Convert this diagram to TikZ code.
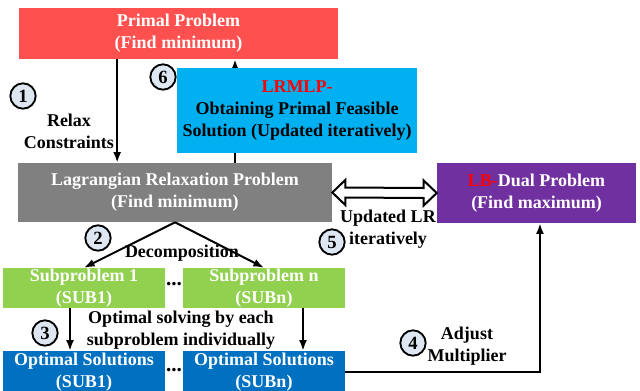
\documentclass[tikz,border=0pt]{standalone}
\usepackage{fontspec}
\setmainfont{Liberation Serif}
\usetikzlibrary{arrows.meta,calc}
\definecolor{primred}{HTML}{FF5050}
\definecolor{lrmlpcyan}{HTML}{00B0F0}
\definecolor{lrgray}{HTML}{808080}
\definecolor{dualpurple}{HTML}{7030A0}
\definecolor{subgreen}{HTML}{92D050}
\definecolor{optblue}{HTML}{0070C0}
\definecolor{stepfill}{HTML}{DEE6F2}
\begin{document}
\begin{tikzpicture}[x=0.75pt,y=-0.75pt,
box/.style={%
rectangle,
inner sep=0pt,
align=center,
text=white,
font=\fontsize{13.5}{16.5}\selectfont\bfseries
},
lbl/.style={%
align=center,
inner sep=0pt,
font=\fontsize{13.5}{16.5}\selectfont\bfseries
},
stepno/.style={%
circle,
draw,
line width=1.4pt,
fill=stepfill,
minimum size=19pt,
inner sep=0pt,
font=\fontsize{14}{14}\selectfont\bfseries
},
arr/.style={%
line width=1.5pt,
-{Latex[length=8pt,width=6pt]}
},
]
\useasboundingbox (0,0) rectangle (640,390);
%%boxes
\node[box,fill=primred,minimum width=239.25pt,minimum height=38.25pt](prim)at(178.5,33.5){Primal Problem\\(Find minimum)};
\node[box,fill=lrgray,minimum width=235.5pt,minimum height=44.25pt](lr)at(175,192.5){Lagrangian Relaxation Problem\\(Find minimum)};
%% arrow behind the LRMLP box
\draw[arr]([xshift=45pt]lr.north)--([xshift=45pt]lr.north|-prim.south);
\node[box,fill=lrmlpcyan,text=black,minimum width=180pt,minimum height=63.75pt](lrmlp)at(297,110.5){\textcolor{red}{LRMLP-}\\Obtaining Primal Feasible\\Solution (Updated iteratively)};
\node[box,fill=dualpurple,minimum width=149.25pt,minimum height=45pt](dual)at(536.5,193){\textcolor{red}{LB-}Dual Problem\\(Find maximum)};
\node[box,fill=subgreen,minimum width=121.5pt,minimum height=30pt](sub1)at(84,288){Subproblem 1\\(SUB1)};
\node[box,fill=subgreen,minimum width=121.5pt,minimum height=30pt](subn)at(264,288){Subproblem n\\(SUBn)};
\node[box,fill=optblue,minimum width=121.5pt,minimum height=31.5pt](opt1)at(84,372){Optimal Solutions\\(SUB1)};
\node[box,fill=optblue,minimum width=121.5pt,minimum height=31.5pt](optn)at(264,372){Optimal Solutions\\(SUBn)};
%%dots
\node[lbl,font=\fontsize{16}{16}\selectfont\bfseries](dotsub)at(174,284){...};
\node[lbl,font=\fontsize{16}{16}\selectfont\bfseries](dotopt)at(174,370){...};
%%arrows
\draw[arr]([xshift=-46pt]prim.south)--([xshift=-46pt]prim.south|-lr.north);
%% hollow double arrow
\draw[line width=1.5pt,fill=white,line join=miter](lr.east)--++(13,-12.5)--++(0,7.5)--($(dual.west)+(-13,-5)$)--++(0,-7.5)--(dual.west)
--++(-13,12.5)--++(0,-7.5)--($(lr.east)+(13,5)$)--++(0,7.5)--cycle;
\draw[arr](lr.south)--(sub1.north);
\draw[arr](lr.south)--(subn.north);
\draw[arr]([xshift=-10.5pt]sub1.south)--([xshift=-10.5pt]opt1.north);
\draw[arr]([xshift=29.25pt]subn.south)--([xshift=29.25pt]optn.north);
\draw[arr]([yshift=0pt]optn.east)-|([xshift=2.6pt]dual.south);
%%labels
\node[lbl](relax)at(69,131){Relax\\Constraints};
\node[lbl](decomp)at(182,253){Decomposition};
\node[lbl](solving)at(181,330){Optimal solving by each\\subproblem individually};
\node[lbl](updated)at(388,229.5){Updated LR\\iteratively};
\node[lbl](adjust)at(467,346){Adjust\\Multiplier};
%%steps
\node[stepno](s1)at(23,96){1};
\node[stepno](s2)at(98,238){2};
\node[stepno](s3)at(45,333){3};
\node[stepno](s4)at(413,343){4};
\node[stepno](s5)at(332,242){5};
\node[stepno](s6)at(163,77){6};
\end{tikzpicture}
\end{document}
